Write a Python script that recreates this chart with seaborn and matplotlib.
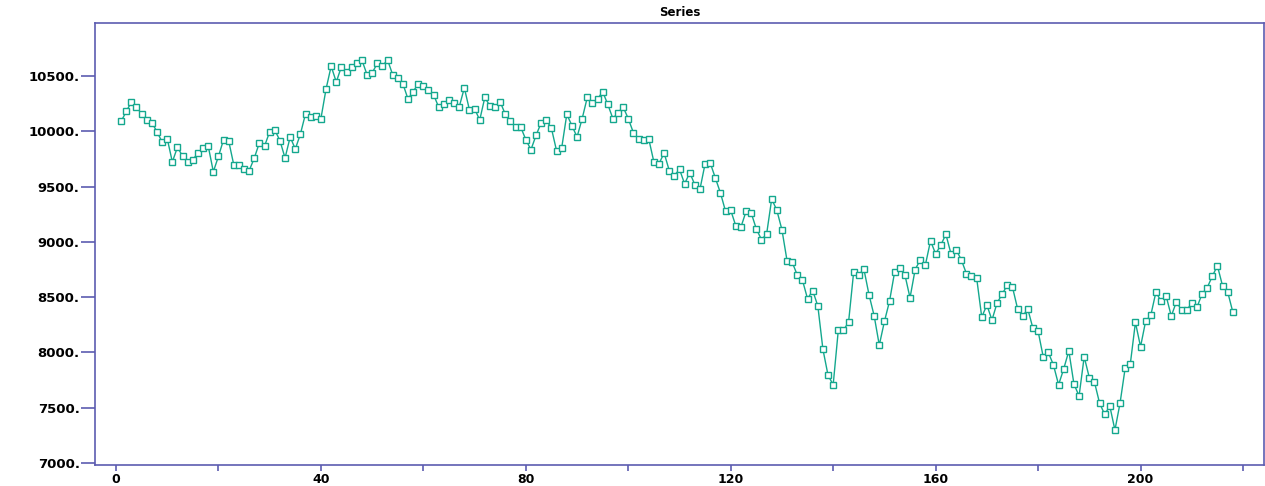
import numpy as np
import pandas as pd
import matplotlib
matplotlib.use("Agg")
import matplotlib.pyplot as plt
import seaborn as sns

# series values, index 1..218
values = [
    10090, 10180, 10265, 10217, 10160, 10102, 10078, 9997, 9903, 9934,
    9723, 9858, 9774, 9723, 9744, 9804, 9849, 9867, 9635, 9774,
    9925, 9912, 9695, 9695, 9663, 9645, 9759, 9898, 9867, 9997,
    10012, 9916, 9759, 9949, 9840, 9976, 10160, 10130, 10139, 10115,
    10382, 10590, 10446, 10585, 10536, 10585, 10621, 10645, 10513, 10528,
    10615, 10588, 10648, 10513, 10485, 10431, 10292, 10359, 10430, 10414,
    10371, 10332, 10217, 10243, 10287, 10258, 10222, 10393, 10193, 10205,
    10102, 10307, 10229, 10217, 10266, 10154, 10097, 10039, 10039, 9925,
    9834, 9964, 10078, 10102, 10027, 9825, 9849, 10154, 10051, 9949,
    10115, 10307, 10259, 10292, 10359, 10244, 10115, 10169, 10220, 10115,
    9988, 9934, 9925, 9931, 9723, 9708, 9804, 9645, 9600, 9657,
    9525, 9627, 9516, 9478, 9708, 9714, 9578, 9442, 9275, 9286,
    9144, 9135, 9277, 9261, 9117, 9021, 9069, 9388, 9286, 9109,
    8828, 8816, 8699, 8654, 8485, 8560, 8421, 8028, 7793, 7708,
    8202, 8202, 8273, 8729, 8702, 8753, 8521, 8331, 8066, 8280,
    8464, 8729, 8763, 8702, 8494, 8750, 8837, 8792, 9009, 8892,
    8970, 9069, 8892, 8928, 8840, 8714, 8694, 8676, 8320, 8429,
    8293, 8449, 8528, 8612, 8591, 8395, 8331, 8392, 8217, 8193,
    7961, 8001, 7886, 7708, 7851, 8014, 7714, 7606, 7961, 7772,
    7733, 7542, 7440, 7515, 7298, 7542, 7859, 7895, 8272, 8052,
    8284, 8336, 8546, 8464, 8510, 8329, 8458, 8383, 8383, 8446,
    8407, 8528, 8585, 8688, 8785, 8604, 8549, 8368,
]
index = list(range(1, len(values) + 1))

y_ticks = [7000, 7500, 8000, 8500, 9000, 9500, 10000, 10500]
x_ticks = list(range(0, 221, 20))
x_labels = [str(t) if t % 40 == 0 else "" for t in x_ticks]

df = pd.DataFrame({"index": index, "value": values})

sns.set_theme(style="white")
plt.rcParams["font.family"] = ["DejaVu Sans"]

line_col = "#14a88e"
axis_col = "#5c5cb0"

fig = plt.figure(figsize=(12.65, 4.86), dpi=100)
ax = fig.add_axes([95 / 1265, 1 - 465 / 486, 1169 / 1265, 442 / 486])

sns.lineplot(data=df, x="index", y="value", ax=ax, color=line_col, linewidth=1.0,
             marker="s", markersize=4.5, markerfacecolor="white",
             markeredgecolor=line_col, markeredgewidth=1.0)

ax.set_xlim(-4.1, 224.1)
ax.set_ylim(6982, 10980)
ax.set_xticks(x_ticks)
ax.set_xticklabels(x_labels)
ax.set_yticks(y_ticks)
ax.set_yticklabels([f"{t}." for t in y_ticks])
ax.set_xlabel("")
ax.set_ylabel("")

for sp in ax.spines.values():
    sp.set_color(axis_col)
    sp.set_linewidth(1.2)

ax.tick_params(axis="y", direction="out", length=10, width=1.2, color=axis_col,
               pad=1, left=True, labelsize=9.5, labelcolor="black")
ax.tick_params(axis="x", direction="out", length=4, width=1.2, color=axis_col,
               pad=2, bottom=True, labelsize=9, labelcolor="black")
for lab in ax.get_xticklabels() + ax.get_yticklabels():
    lab.set_fontweight("bold")

ax.set_title("Series", fontsize=8.5, fontweight="bold", pad=5, color="black")

fig.savefig("out.png", dpi=100)
